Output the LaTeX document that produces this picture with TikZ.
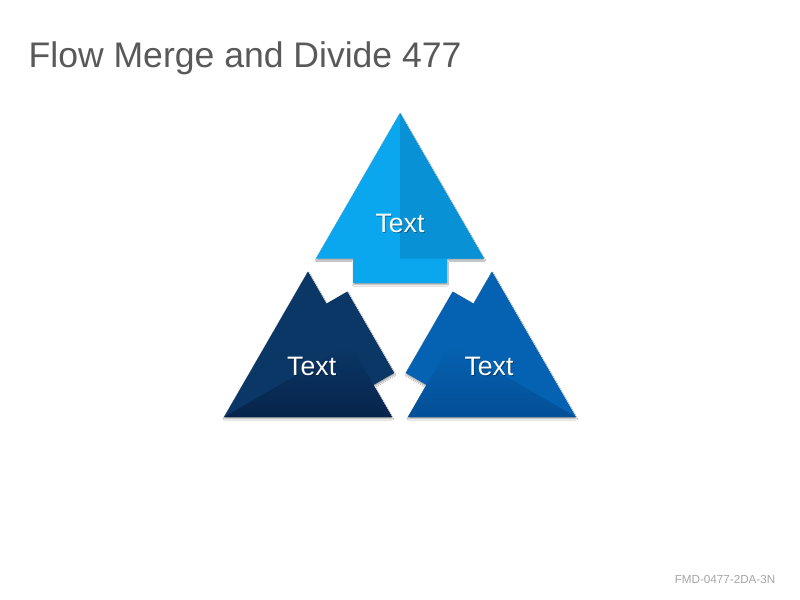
\documentclass[tikz,border=0pt]{standalone}
\usepackage{fontspec}
\setmainfont{Liberation Sans}
\usetikzlibrary{shadows.blur}
\definecolor{topA}{HTML}{0AA6EE}
\definecolor{topB}{HTML}{0891D4}
\definecolor{leftA}{HTML}{0B3766}
\definecolor{leftB}{HTML}{06244B}
\definecolor{rightA}{HTML}{0562B2}
\definecolor{rightB}{HTML}{044F96}
\definecolor{titlegray}{HTML}{595959}
\definecolor{footgray}{HTML}{A6A6A6}
\tikzset{
  shapebody/.style={blur shadow={shadow xshift=0.3pt, shadow yshift=-1.6pt, shadow blur radius=1.1pt, shadow opacity=35}},
  lbl/.style={text=white, font=\fontsize{24}{24}\selectfont, inner sep=0pt},
  lblshadow/.style={text=black, opacity=0.35, font=\fontsize{24}{24}\selectfont, inner sep=0pt}
}
\begin{document}
\begin{tikzpicture}[x=0.9pt,y=-0.9pt]
\useasboundingbox (0,0) rectangle (800,600);
\fill[white] (0,0) rectangle (800,600);
% title
\node[anchor=base west, inner sep=0pt, text=titlegray, font=\fontsize{32}{32}\selectfont] (title) at (28.5,67.7) {Flow Merge and Divide 477};
\node[anchor=base east, inner sep=0pt, text=footgray, font=\fontsize{10.5}{10.5}\selectfont] (foot) at (775.5,583.5) {FMD-0477-2DA-3N};
% top arrow
\fill[topA, shapebody] (400,113) -- (484,258.5) -- (447,258.5) -- (447,283) -- (353,283) -- (353,258.5) -- (316,258.5) -- cycle;
\fill[topB] (400,113) -- (484,258.5) -- (400,258.5) -- cycle;
% left shape
\fill[leftA, shapebody] (308,271.5) -- (326.5,303.55) -- (347.28,291.55) -- (394.28,372.95) -- (373.5,384.95) -- (392,417) -- (224,417) -- cycle;
\shade[top color=leftA, bottom color=leftB] (224,417) -- (350,344.25) -- (392,417) -- cycle;
% right shape
\fill[rightA, shapebody] (492,271.5) -- (473.5,303.55) -- (452.72,291.55) -- (405.72,372.95) -- (426.5,384.95) -- (408,417) -- (576,417) -- cycle;
\shade[top color=rightA, bottom color=rightB] (576,417) -- (450,344.25) -- (408,417) -- cycle;
% labels
\node[lblshadow] at (400.8,224) {Text};
\node[lbl] (ttop) at (400,223) {Text};
\node[lblshadow] at (312.5,367) {Text};
\node[lbl] (tleft) at (311.7,366) {Text};
\node[lblshadow] at (489.8,367) {Text};
\node[lbl] (tright) at (489,366) {Text};
\end{tikzpicture}
\end{document}
